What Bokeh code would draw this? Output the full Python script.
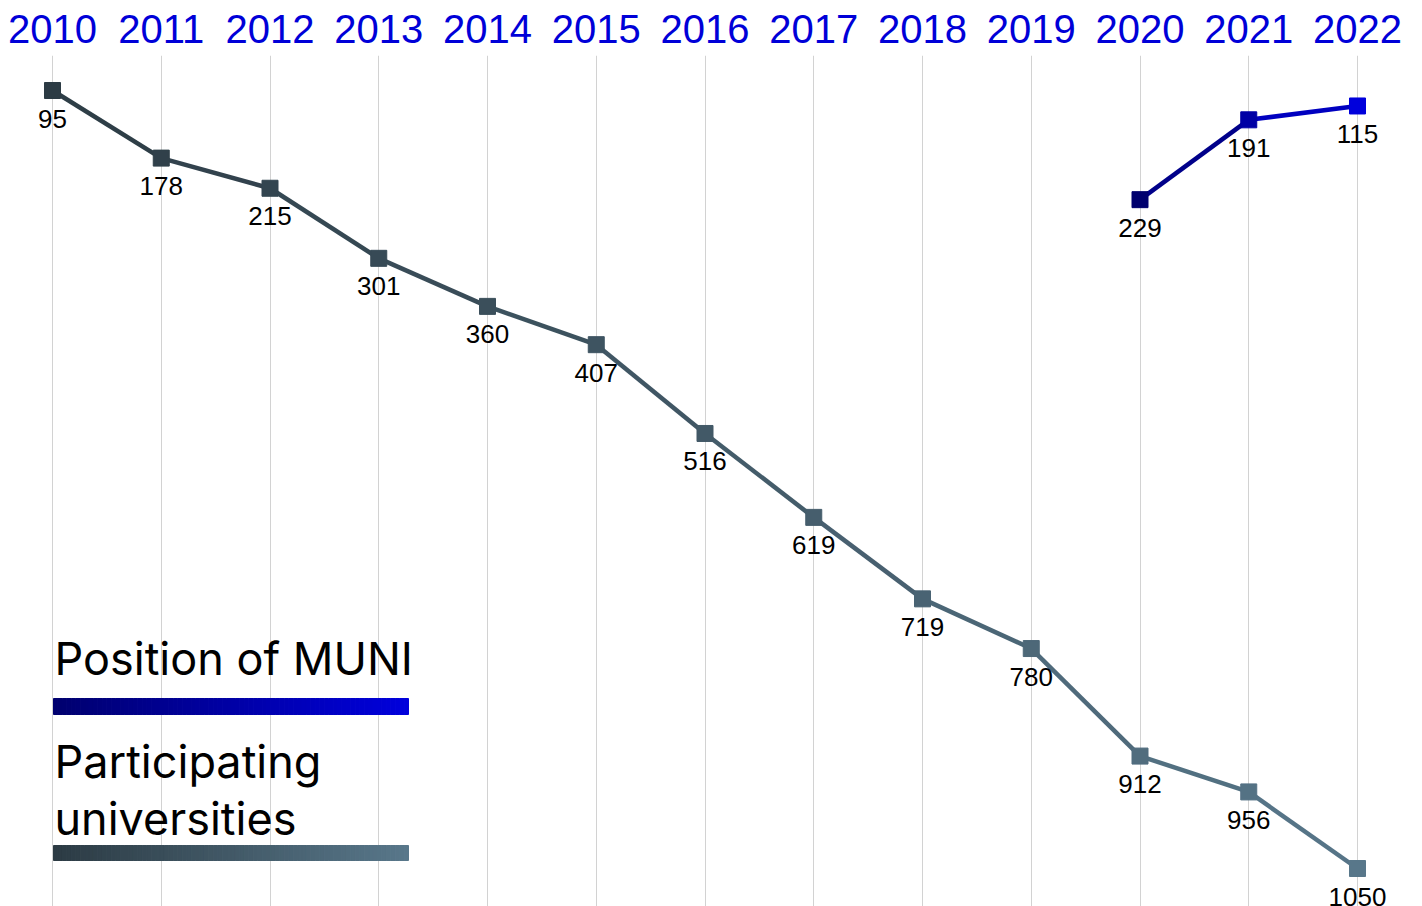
from bokeh.plotting import figure
from bokeh.models import Range1d, LinearAxis, FixedTicker, Grid, PrintfTickFormatter
from bokeh.embed import file_html
from bokeh.resources import INLINE
from bokeh.core.properties import value

# ---------------- data ----------------
years = [2010, 2011, 2012, 2013, 2014, 2015, 2016, 2017, 2018, 2019, 2020, 2021, 2022]
universities = [95, 178, 215, 301, 360, 407, 516, 619, 719, 780, 912, 956, 1050]
univ_labels = [str(v) for v in universities]
muni_years = [2020, 2021, 2022]
muni_position = [229, 131, 114]          # vertical position as drawn in the chart
muni_labels = ["229", "191", "115"]      # printed labels
legend_muni = "Position of MUNI"
legend_univ = ["Participating", "universities"]

# ---------------- styles ----------------
UNIV_C0, UNIV_C1 = "#2c3b44", "#58778a"
MUNI_C0, MUNI_C1 = "#00006e", "#0000dc"
YEAR_COLOR = "#0000d8"
NUM_FONT = "Liberation Sans"
LEG_FONT = "Inter"

W, H = 1422, 906
FRAME_TOP = 55
STEP = 108.75                 # px per year
X_LEFT_PX = 52                # px of first year
PX_PER_UNIT = 778 / 955
x_start = 2010 - X_LEFT_PX / STEP
x_end = x_start + W / STEP
y_top = 95 - (90 - FRAME_TOP) / PX_PER_UNIT
y_bottom = y_top + (H - FRAME_TOP) / PX_PER_UNIT


def hx(c):
    c = c.lstrip("#")
    return [int(c[i:i + 2], 16) for i in (0, 2, 4)]


def lerp(c0, c1, t):
    a, b = hx(c0), hx(c1)
    return "#%02x%02x%02x" % tuple(int(round(a[i] + (b[i] - a[i]) * t)) for i in range(3))


def sx(px):  # screen px -> data x
    return x_start + px / STEP


def sy(py):  # screen px -> data y
    return y_top + (py - FRAME_TOP) / PX_PER_UNIT


p = figure(width=W, height=H, output_backend="svg", toolbar_location=None,
           x_axis_type=None, y_axis_type=None,
           x_range=Range1d(x_start, x_end), y_range=Range1d(y_bottom, y_top),
           min_border=0, min_border_left=0, min_border_right=0,
           min_border_top=FRAME_TOP, min_border_bottom=0)
p.outline_line_color = None
p.background_fill_color = "white"
p.border_fill_color = "white"

ticker = FixedTicker(ticks=years)
ax = LinearAxis(ticker=ticker, formatter=PrintfTickFormatter(format="%d"),
                axis_line_color=None, major_tick_line_color=None,
                minor_tick_line_color=None, major_tick_out=0, major_tick_in=0,
                minor_tick_out=0, major_label_standoff=13,
                major_label_text_font_size="40px",
                major_label_text_font=NUM_FONT,
                major_label_text_color=YEAR_COLOR)
p.add_layout(ax, "above")
p.add_layout(Grid(dimension=0, ticker=ticker, grid_line_color="#d2d2d2",
                  grid_line_width=1))


def draw_series(xs, ys, labels, c0, c1):
    n = len(xs)
    x_lo, x_hi = xs[0], xs[-1]
    tcol = [lerp(c0, c1, (x - x_lo) / (x_hi - x_lo)) for x in xs]
    seg_col = [lerp(c0, c1, ((xs[i] + xs[i + 1]) / 2 - x_lo) / (x_hi - x_lo))
               for i in range(n - 1)]
    p.segment(x0=xs[:-1], y0=ys[:-1], x1=xs[1:], y1=ys[1:],
              line_color=seg_col, line_width=4.5)
    p.scatter(x=xs, y=ys, marker="square", size=16, fill_color=tcol,
              line_color=tcol)
    p.text(x=xs, y=ys, text=labels, text_align="center", text_baseline="top",
           y_offset=19, text_font=value(NUM_FONT), text_font_size="26px",
           text_color="black")


draw_series(years, universities, univ_labels, UNIV_C0, UNIV_C1)
draw_series(muni_years, muni_position, muni_labels, MUNI_C0, MUNI_C1)


# ---------------- legend ----------------
def grad_bar(x0px, x1px, y0px, y1px, c0, c1, n=80):
    w = (x1px - x0px) / n
    lefts = [sx(x0px + i * w) for i in range(n)]
    rights = [sx(x0px + (i + 1) * w) for i in range(n)]
    cols = [lerp(c0, c1, (i + 0.5) / n) for i in range(n)]
    p.quad(left=lefts, right=rights, top=[sy(y0px)] * n, bottom=[sy(y1px)] * n,
           fill_color=cols, line_color=cols, line_width=1)


p.text(x=[sx(54)], y=[sy(658)], text=[legend_muni], text_baseline="alphabetic",
       text_font=value(LEG_FONT), text_font_size="45px", text_color="black")
grad_bar(53, 408, 698, 714, MUNI_C0, MUNI_C1)
p.text(x=[sx(54), sx(54)], y=[sy(761), sy(818)], text=legend_univ,
       text_baseline="alphabetic", text_font=value(LEG_FONT),
       text_font_size="45px", text_color="black")
grad_bar(53, 408, 845, 860, UNIV_C0, UNIV_C1)

open("out.html", "w").write(file_html(p, INLINE))
